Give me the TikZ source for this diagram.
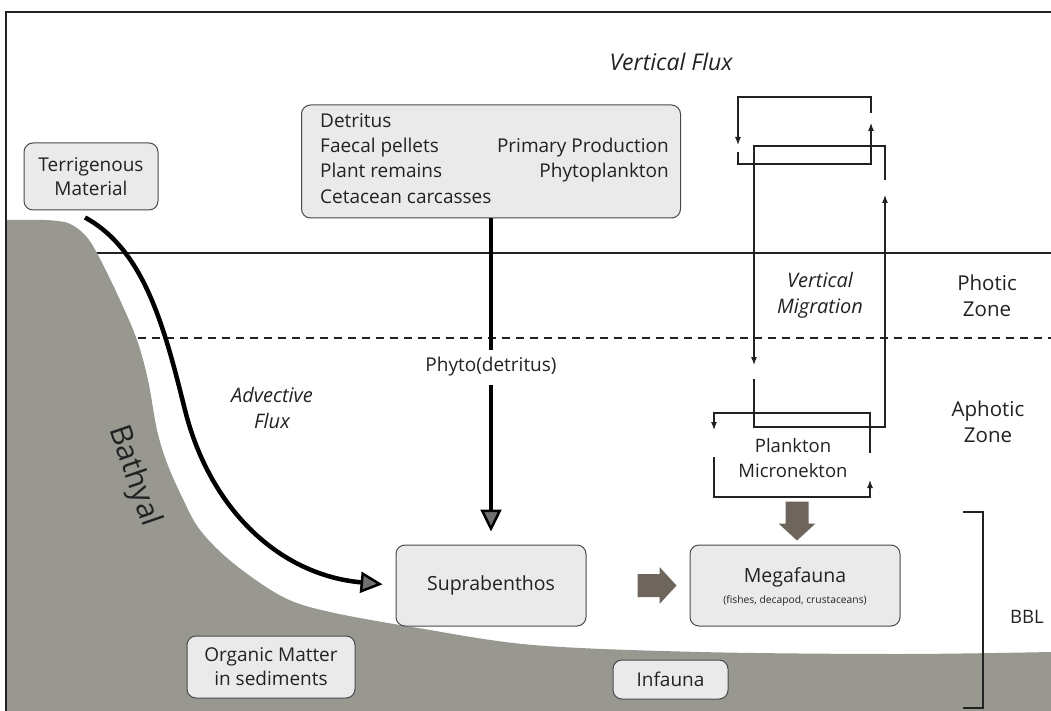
\documentclass[tikz,border=0pt]{standalone}
\usepackage{fontspec}
\setmainfont{Open Sans}
\usetikzlibrary{arrows.meta,calc}
\definecolor{ground}{HTML}{989890}
\definecolor{boxfill}{HTML}{EBEAEA}
\definecolor{boxline}{HTML}{4A4A4A}
\definecolor{blockc}{HTML}{6E665C}
\definecolor{ink}{HTML}{222222}
\definecolor{tipfill}{HTML}{707070}
\tikzset{
  box/.style={draw=boxline, fill=boxfill, rounded corners=9pt, line width=1pt, inner sep=0pt, align=center, font=\fontsize{19}{24}\selectfont, text=ink},
  lbl/.style={inner sep=0pt, align=center, font=\fontsize{18.5}{25}\selectfont, text=ink},
  zlbl/.style={lbl, font=\fontsize{20.5}{26}\selectfont},
  ilbl/.style={lbl, font=\fontsize{20}{26}\itshape},
  boxtxt/.style={inner sep=0pt, text height=13pt, text depth=4pt, font=\fontsize{19}{24}\selectfont, text=ink},
  thickarrow/.style={draw=black, line width=4.5pt, -{Triangle[length=22pt,width=21pt,fill=tipfill,line width=2.5pt]}},
  mig/.style={draw=ink, line width=1.1pt, -{Latex[length=8pt,width=6pt]}},
  blockarr/.pic={\fill[blockc] (-19.5,-11.5) -- (2.5,-11.5) -- (2.5,-18.5) -- (19.5,0) -- (2.5,18.5) -- (2.5,11.5) -- (-19.5,11.5) -- cycle;}
}
\begin{document}
\begin{tikzpicture}[x=1pt,y=-1pt]
\useasboundingbox (0,0) rectangle (1051,711);
\fill[white] (0,0) rectangle (1051,711);
% zone lines
\draw[ink, line width=1.8pt] (70,253) -- (1051,253);
\draw[ink, line width=1.2pt, dash pattern=on 8pt off 6pt] (110,338) -- (1051,338);
% ground
\fill[ground] (7,711) -- (7,220) -- plot[smooth, tension=0.55] coordinates {(45,220) (68,223) (85,235) (98,255) (120,300) (137,340) (148,380) (157,430) (167,463) (182,497) (200,530) (233,563) (283,597) (330,612) (418,628) (533,645) (700,652) (900,654) (1051,652)} -- (1051,711) -- cycle;
% frame
\draw[ink, line width=1.3pt] (6,711) -- (6,12) -- (1051,12);

% boxes
\node[box, minimum width=134pt, minimum height=67pt] (terr) at (91,176.5) {Terrigenous\\Material};
\node[box, minimum width=379pt, minimum height=113pt] (top) at (491,161.5) {};
\node[boxtxt, anchor=west] (t1) at (320,123) {Detritus};
\node[boxtxt, anchor=west] (t2) at (320,148) {Faecal pellets};
\node[boxtxt, anchor=west] (t3) at (320,173) {Plant remains};
\node[boxtxt, anchor=west] (t4) at (320,199) {Cetacean carcasses};
\node[boxtxt, anchor=east] (t5) at (669,148) {Primary Production};
\node[boxtxt, anchor=east] (t6) at (669,173) {Phytoplankton};
\node[box, minimum width=190pt, minimum height=81pt, font=\fontsize{19.5}{24}\selectfont] (supra) at (491,585.5) {Suprabenthos};
\node[box, minimum width=210pt, minimum height=81pt] (mega) at (795,585.5) {};
\node[lbl, font=\fontsize{19.5}{24}\selectfont] (megat) at (795,577) {Megafauna};
\node[lbl, font=\fontsize{10.3}{12}\selectfont] (megas) at (795,601) {(fishes, decapod, crustaceans)};
\node[box, minimum width=168pt, minimum height=62pt] (org) at (271,667) {Organic Matter\\in sediments};
\node[box, minimum width=115pt, minimum height=39pt] (inf) at (670.5,679.5) {Infauna};

% labels
\node[lbl, font=\fontsize{23}{26}\itshape\selectfont] (vflux) at (671,62) {Vertical Flux};
\node[ilbl] (adv) at (272,408) {Advective\\Flux};
\node[ilbl] (vmig) at (820,295) {Vertical\\Migration};
\node[zlbl] (photic) at (987,296) {Photic\\Zone};
\node[zlbl] (aphotic) at (988,422) {Aphotic\\Zone};
\node[lbl] (bbl) at (1027,617) {BBL};
\node[lbl] (plank) at (793,458) {Plankton\\Micronekton};
\node[lbl, font=\fontsize{30}{32}\selectfont, rotate=-71] (bath) at (134,476) {Bathyal};

% advective flux arrow
\draw[thickarrow, shorten >=13pt] ([shift={(-6,7)}]terr.south) .. controls (145,250) and (165,330) .. (185,410) .. controls (210,510) and (280,575) .. (supra.west);
% vertical flux arrow
\draw[thickarrow, shorten >=13pt] (top.south) -- (supra.north);
\node[lbl, font=\fontsize{19}{24}\selectfont, fill=white, inner xsep=2pt, inner ysep=8pt] (phyto) at (491,367) {Phyto(detritus)};

% block arrows
\pic at ([xshift=-32.5pt]mega.west) {blockarr};
\pic[rotate=-90] at ([shift={(2,-23.5)}]mega.north) {blockarr};

% vertical migration loops
\draw[mig] (871,113) -- (871,97) -- (738,97) -- (738,145);
\draw[mig] (738,152) -- (738,164) -- (871,164) -- (871,123);
\draw[mig] (885,180) -- (885,146) -- (754,146) -- (754,365);
\draw[mig] (754,379) -- (754,427) -- (885,427) -- (885,195);
\draw[mig] (870,453) -- (870,413) -- (714,413) -- (714,430);
\draw[mig] (714,457) -- (714,497) -- (870,497) -- (870,480);

% BBL bracket
\draw[ink, line width=1.5pt] (963,512) -- (983,512) -- (983,708) -- (963,708);
\end{tikzpicture}
\end{document}
